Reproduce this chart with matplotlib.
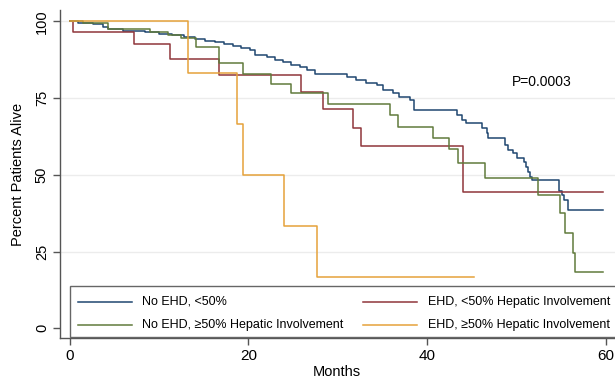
import matplotlib
matplotlib.use("Agg")
import matplotlib.pyplot as plt
from matplotlib.patches import Rectangle
from matplotlib.lines import Line2D

plt.rcParams['font.family'] = ['Liberation Sans', 'DejaVu Sans']

# ---- data (months, percent alive after each step) ----
t_blue = [0, 1.0, 2.6, 3.8, 4.3, 6.0, 8.5, 10.0, 11.5, 12.8, 14.0, 15.2, 16.3, 17.3, 18.3,
          19.2, 20.2, 20.7, 22.1, 23.0, 23.9, 24.8, 25.8, 26.6, 27.5, 31.0, 32.1, 33.2, 34.4, 35.1,
          36.2, 36.9, 38.1, 38.5, 43.3, 43.9, 44.4, 46.1, 46.7, 46.8, 48.7, 49.1, 49.6, 50.0, 50.8,
          51.1, 51.3, 51.5, 51.7, 54.7, 55.1, 55.3, 55.8, 59.7]
v_blue = [100, 99.4, 99.0, 98.3, 97.4, 97.0, 96.6, 96.0, 95.4, 94.8, 94.2, 93.6, 93.1, 92.6, 92.1,
          91.4, 90.5, 89.0, 88.4, 87.5, 86.7, 85.9, 85.1, 84.1, 82.9, 81.9, 80.9, 79.8, 79.2, 77.6,
          76.5, 75.4, 74.3, 71.1, 69.5, 67.9, 66.8, 65.1, 63.5, 61.9, 59.7, 58.1, 57.0, 55.4, 54.3,
          52.6, 51.0, 49.4, 48.3, 44.8, 43.3, 41.8, 38.5, 38.5]

t_green = [0, 1.5, 4.3, 9.0, 11.0, 12.5, 14.2, 16.7, 19.4, 22.5, 24.8, 28.9, 35.8, 36.8, 40.7,
           42.4, 43.5, 46.5, 52.4, 54.9, 55.4, 56.3, 56.5, 59.7]
v_green = [100, 99.4, 97.4, 96.5, 95.5, 94.6, 91.7, 86.5, 82.8, 79.7, 76.7, 73.2, 69.5, 65.7, 62.0,
           58.3, 53.7, 49.0, 43.4, 37.5, 30.9, 24.6, 18.4, 18.4]

t_red = [0, 0.35, 7.2, 11.2, 16.7, 25.9, 28.3, 31.7, 32.6, 44.0, 59.7]
v_red = [100, 96.4, 92.7, 87.6, 82.6, 77.0, 71.3, 65.3, 59.4, 44.5, 44.5]

t_orange = [0, 13.2, 18.7, 19.4, 24.0, 27.7, 45.2]
v_orange = [100, 83.3, 66.7, 50.0, 33.3, 16.7, 16.7]

labels = ["No EHD, <50%", "No EHD, \u226550% Hepatic Involvement",
          "EHD, <50% Hepatic Involvement", "EHD, \u226550% Hepatic Involvement"]
colors = ["#1f4670", "#607a3c", "#90353b", "#e5a23a"]
x_ticks = [0, 20, 40, 60]
y_ticks = [0, 25, 50, 75, 100]
p_text = "P=0.0003"

W, H = 615, 380
fig = plt.figure(figsize=(W / 100, H / 100), dpi=100)

def fx(px):
    return px / W

def fy(py):
    return 1 - py / H

# axes placement (pixels)
L, R, T, B = 60, 617, 10, 338
ax = fig.add_axes([fx(L), fy(B), fx(R - L), (B - T) / H])
x0px, pxpm = 69.5, 8.94
y0px, pxpu = 328.3, 3.07
ax.set_xlim((L - x0px) / pxpm, (R - x0px) / pxpm)
ax.set_ylim((y0px - B) / pxpu, (y0px - T) / pxpu)

for y in y_ticks[1:]:
    ax.axhline(y, color="#ececec", lw=1.0, zorder=0)

series = [(t_blue, v_blue, colors[0]), (t_red, v_red, colors[2]),
          (t_green, v_green, colors[1]), (t_orange, v_orange, colors[3])]
for t, v, c in series:
    ax.step(t, v, where="post", color=c, lw=1.1, zorder=3)

for s in ["top", "right"]:
    ax.spines[s].set_visible(False)
for s in ["left", "bottom"]:
    ax.spines[s].set_color("#555555")
    ax.spines[s].set_linewidth(1.0)

ax.set_xticks(x_ticks)
ax.set_yticks(y_ticks)
ax.tick_params(axis="both", colors="#555555", length=5, width=1.0, labelcolor="black")
ax.tick_params(axis="x", labelsize=11, pad=3)
ax.tick_params(axis="y", labelsize=10.5, pad=3)
for lab in ax.get_yticklabels():
    lab.set_rotation(90)
    lab.set_va("center")

fig.text(fx(337), fy(372), "Months", ha="center", va="center", fontsize=10.5)
fig.text(fx(18), fy(174), "Percent Patients Alive", ha="center", va="center",
         rotation=90, fontsize=10.5)

ax.text((512 - x0px) / pxpm, (y0px - 82.5) / pxpu, p_text, ha="left", va="center", fontsize=10)

# legend box (manual, pixel layout)
box = Rectangle((fx(70), fy(337)), fx(560), (337 - 286) / H, transform=fig.transFigure,
                facecolor="white", edgecolor="#666666", lw=1.0, zorder=5)
fig.add_artist(box)
rows = [301.5, 325]
cols = [(78, 132, 142), (363, 417, 428)]
order = [(0, 0, 0), (1, 0, 1), (2, 1, 0), (3, 1, 1)]
for idx, ci, ri in order:
    xa, xb, xt = cols[ci]
    yy = fy(rows[ri])
    fig.add_artist(Line2D([fx(xa), fx(xb)], [yy, yy], transform=fig.transFigure,
                          color=colors[idx], lw=1.1, zorder=6))
    fig.text(fx(xt), yy, labels[idx], ha="left", va="center", fontsize=9, zorder=6)

fig.savefig("out.png", dpi=100)
